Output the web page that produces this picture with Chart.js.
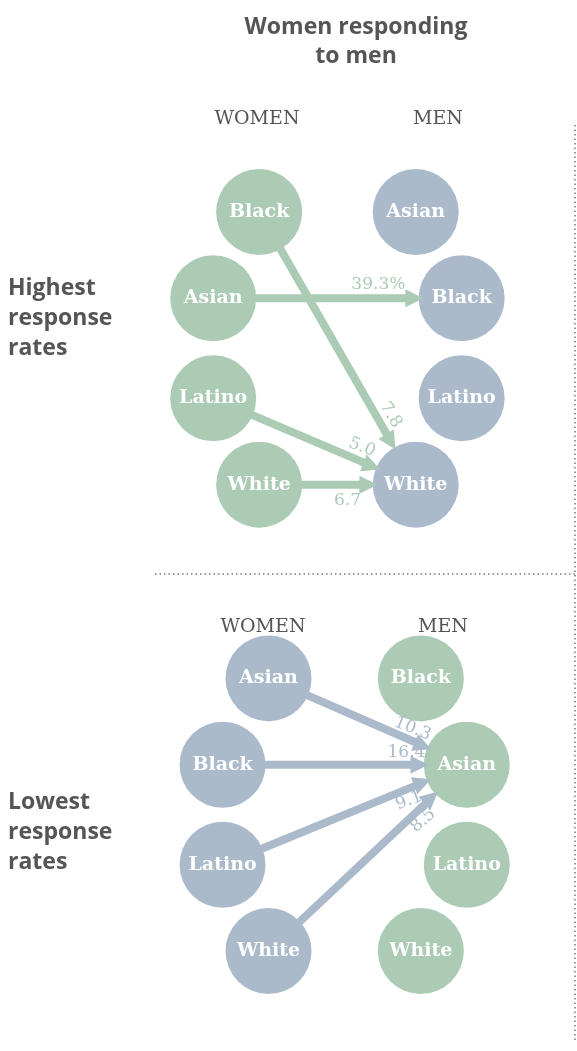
<!DOCTYPE html>
<html>
<head>
<meta charset="utf-8">
<script src="https://cdn.jsdelivr.net/npm/chart.js@4/dist/chart.umd.min.js"></script>
<style>
  html, body { margin: 0; padding: 0; background: #fff; }
  #c { display: block; }
</style>
</head>
<body>
<canvas id="c" width="577" height="1051"></canvas>
<script>
'use strict';
// data
const topWomen = ['Black', 'Asian', 'Latino', 'White'];
const topMen = ['Asian', 'Black', 'Latino', 'White'];
const bottomWomen = ['Asian', 'Black', 'Latino', 'White'];
const bottomMen = ['Black', 'Asian', 'Latino', 'White'];
// highest response rates: [from woman, to man, rate]
const highFrom = ['Black', 'Asian', 'Latino', 'White'];
const highTo = ['White', 'Black', 'White', 'White'];
const highRate = ['7.8', '39.3%', '5.0', '6.7'];
// lowest response rates
const lowFrom = ['Asian', 'Black', 'Latino', 'White'];
const lowTo = ['Asian', 'Asian', 'Asian', 'Asian'];
const lowRate = ['10.3', '16.4', '9.1', '8.5'];

// layout (pixel coords)
const GREEN = '#abcbb5';
const BLUE = '#abbacb';
const R = 43;
const rowY = [0, 94, 203, 297];
const colOff = [54, 0, 0, 54];

function panel(women, men, y0, leftX, rightX, wColor, mColor) {
  const pos = {w: {}, m: {}};
  const pts = [];
  women.forEach((g, i) => {
    const p = {x: leftX + colOff[i], y: y0 + rowY[i], r: R, label: g, c: wColor};
    pos.w[g] = p; pts.push(p);
  });
  men.forEach((g, i) => {
    const p = {x: rightX - colOff[i], y: y0 + rowY[i], r: R, label: g, c: mColor};
    pos.m[g] = p; pts.push(p);
  });
  return {pos, pts};
}
const topPanel = panel(topWomen, topMen, 184, 200, 492, GREEN, BLUE);
const botPanel = panel(bottomWomen, bottomMen, 692, 211, 498, BLUE, GREEN);

function arrows(pan, from, to, rate, color, labelOff) {
  return from.map((f, i) => {
    const a = pan.pos.w[f], b = pan.pos.m[to[i]];
    const dx = b.x - a.x, dy = b.y - a.y, len = Math.hypot(dx, dy);
    const ux = dx / len, uy = dy / len;
    return {
      x1: a.x + ux * R, y1: a.y + uy * R,
      x2: b.x - ux * (R + 2), y2: b.y - uy * (R + 2),
      rate: rate[i], color, off: labelOff[i]
    };
  });
}
const arrowList = [
  ...arrows(topPanel, highFrom, highTo, highRate, GREEN, [[-32, -14, 'r'], [-45, -14, 'h'], [-25, -14, 'r'], [-30, 16, 'h']]),
  ...arrows(botPanel, lowFrom, lowTo, lowRate, BLUE, [[-25, -12, 'r'], [-22, -12, 'h'], [-28, 12, 'r'], [-30, 12, 'r']])
];

const lineSets = arrowList.map(a => {
  const len = Math.hypot(a.x2 - a.x1, a.y2 - a.y1);
  return {
    type: 'line',
    data: [{x: a.x1, y: a.y1}, {x: a.x2 - (a.x2 - a.x1) / len * 10, y: a.y2 - (a.y2 - a.y1) / len * 10}],
    borderColor: a.color, borderWidth: 8, pointRadius: 0, borderCapStyle: 'butt'
  };
});
const allPts = [...topPanel.pts, ...botPanel.pts];

const serif = '"DejaVu Serif", "Liberation Serif", serif';
const sans = '"Open Sans", "DejaVu Sans", sans-serif';

const decor = {
  id: 'decor',
  beforeDatasetsDraw(chart) {
    const ctx = chart.ctx;
    ctx.save();
    ctx.strokeStyle = '#777';
    ctx.lineWidth = 1.5;
    ctx.setLineDash([1.5, 3]);
    ctx.beginPath();
    ctx.moveTo(155, 574); ctx.lineTo(577, 574);
    ctx.moveTo(575, 125); ctx.lineTo(575, 1040);
    ctx.stroke();
    ctx.restore();
  },
  afterDatasetsDraw(chart) {
    const ctx = chart.ctx, xs = chart.scales.x, ys = chart.scales.y;
    ctx.save();
    arrowList.forEach(a => {
      const x2 = xs.getPixelForValue(a.x2), y2 = ys.getPixelForValue(a.y2);
      const ang = Math.atan2(a.y2 - a.y1, a.x2 - a.x1);
      ctx.fillStyle = a.color;
      ctx.beginPath();
      ctx.moveTo(x2, y2);
      ctx.lineTo(x2 - 18 * Math.cos(ang) + 9 * Math.sin(ang), y2 - 18 * Math.sin(ang) - 9 * Math.cos(ang));
      ctx.lineTo(x2 - 18 * Math.cos(ang) - 9 * Math.sin(ang), y2 - 18 * Math.sin(ang) + 9 * Math.cos(ang));
      ctx.closePath();
      ctx.fill();
      const lx = x2 + a.off[0] * Math.cos(ang) - a.off[1] * Math.sin(ang);
      const ly = y2 + a.off[0] * Math.sin(ang) + a.off[1] * Math.cos(ang);
      ctx.save();
      ctx.translate(lx, ly);
      if (a.off[2] === 'r') ctx.rotate(ang);
      ctx.font = '17px ' + serif;
      ctx.textAlign = 'center';
      ctx.textBaseline = 'middle';
      ctx.fillText(a.rate, 0, 0);
      ctx.restore();
    });
    ctx.fillStyle = '#fff';
    ctx.font = 'bold 19px ' + serif;
    ctx.textAlign = 'center';
    ctx.textBaseline = 'middle';
    allPts.forEach(p => ctx.fillText(p.label, xs.getPixelForValue(p.x), ys.getPixelForValue(p.y)));
    ctx.fillStyle = '#555';
    ctx.font = '19px ' + serif;
    [[257, 119, 'WOMEN'], [438, 119, 'MEN'], [263, 627, 'WOMEN'], [443, 627, 'MEN']].forEach(h => ctx.fillText(h[2], h[0], h[1]));
    ctx.font = 'bold 23px ' + sans;
    ctx.fillText('Women responding', 356, 27);
    ctx.fillText('to men', 356, 56);
    ctx.textAlign = 'left';
    [['Highest', 288], ['response', 318], ['rates', 348], ['Lowest', 802], ['response', 832], ['rates', 862]]
      .forEach(t => ctx.fillText(t[0], 8, t[1]));
    ctx.restore();
  }
};

new Chart(document.getElementById('c'), {
  type: 'bubble',
  data: {
    datasets: [
      ...lineSets,
      {
        type: 'bubble',
        data: allPts,
        backgroundColor: allPts.map(p => p.c),
        borderWidth: 0,
        hoverRadius: 0
      }
    ]
  },
  options: {
    responsive: false,
    animation: false,
    layout: {padding: 0},
    plugins: {legend: {display: false}, tooltip: {enabled: false}},
    scales: {
      x: {type: 'linear', min: 0, max: 577, display: false},
      y: {type: 'linear', min: 0, max: 1051, reverse: true, display: false}
    }
  },
  plugins: [decor]
});
</script>
</body>
</html>
